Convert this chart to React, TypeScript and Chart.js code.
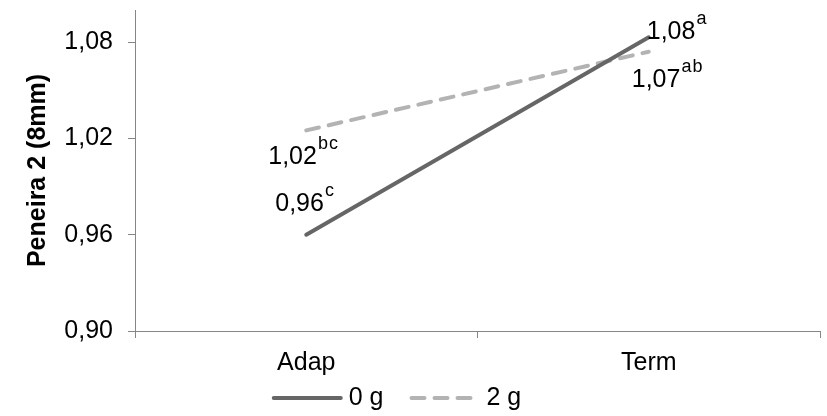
import React, { useEffect, useRef } from "react";
import { Chart, registerables } from "chart.js";

Chart.register(...registerables);

// ---- data ----
const categories = ["Adap", "Term"];
const seriesNames = ["0 g", "2 g"];
const values0g = [0.96, 1.083];
const values2g = [1.025, 1.074];
const valueLabels0g = ["0,96", "1,08"];
const letters0g = ["c", "a"];
const valueLabels2g = ["1,02", "1,07"];
const letters2g = ["bc", "ab"];
const yTickValues = [0.9, 0.96, 1.02, 1.08];
const yMin = 0.9;
const yMax = 1.1;
const yTitle = "Peneira 2 (8mm)";

// ---- style ----
const FONT = "'Liberation Sans', Arial, sans-serif";
const AXIS_COLOR = "#868686";
const COLOR_0G = "#666666";
const COLOR_2G = "#b3b3b3";
const MAIN_SIZE = 25;
const SUP_SIZE = 18;

const labelPlacements = [
  [
    { dx: -31, dy: -24 },
    { dx: -2, dy: 2 },
  ],
  [
    { dx: -38, dy: 34 },
    { dx: -17, dy: 35 },
  ],
];

const pointTexts = [valueLabels0g, valueLabels2g];
const pointLetters = [letters0g, letters2g];

const labelPlugin = {
  id: "pointLabels",
  afterDatasetsDraw(chart: any) {
    const ctx = chart.ctx;
    ctx.save();
    ctx.fillStyle = "#000";
    ctx.textBaseline = "alphabetic";
    ctx.textAlign = "left";
    chart.data.datasets.forEach((_ds: any, i: number) => {
      const meta = chart.getDatasetMeta(i);
      meta.data.forEach((pt: any, j: number) => {
        const main = pointTexts[i][j];
        const sup = pointLetters[i][j];
        const pl = labelPlacements[i][j];
        const sx = pt.x + pl.dx;
        const by = pt.y + pl.dy;
        ctx.font = `${MAIN_SIZE}px ${FONT}`;
        (ctx as any).letterSpacing = "0px";
        const wm = ctx.measureText(main).width;
        ctx.fillText(main, sx, by);
        ctx.font = `${SUP_SIZE}px ${FONT}`;
        (ctx as any).letterSpacing = "1px";
        ctx.fillText(sup, sx + wm + 1, by - 15);
        (ctx as any).letterSpacing = "0px";
      });
    });
    ctx.restore();
  },
};

const legendPlugin = {
  id: "lineLegend",
  afterDraw(chart: any) {
    const ctx = chart.ctx;
    const SAMPLE = 67;
    const GAP = 8;
    const ITEM_GAP = 28;
    ctx.save();
    ctx.font = `${MAIN_SIZE}px ${FONT}`;
    const items = chart.data.datasets.map((ds: any) => ({
      ds,
      w: ctx.measureText(ds.label).width,
    }));
    const total =
      items.reduce((a: number, it: any) => a + SAMPLE + GAP + it.w, 0) +
      ITEM_GAP * (items.length - 1);
    let x = chart.width / 2 - 16 - total / 2;
    const y = chart.chartArea.bottom + 67;
    items.forEach((it: any) => {
      const ds = it.ds;
      ctx.beginPath();
      ctx.strokeStyle = ds.borderColor;
      ctx.lineWidth = ds.borderWidth;
      ctx.lineCap = "round";
      ctx.setLineDash(ds.borderDash || []);
      ctx.moveTo(x, y);
      ctx.lineTo(x + SAMPLE, y);
      ctx.stroke();
      ctx.setLineDash([]);
      ctx.fillStyle = "#000";
      ctx.textBaseline = "middle";
      ctx.textAlign = "left";
      ctx.fillText(ds.label, x + SAMPLE + GAP, y);
      x += SAMPLE + GAP + it.w + ITEM_GAP;
    });
    ctx.restore();
  },
};

const fmt = (v: number) => v.toFixed(2).replace(".", ",");

export default function App() {
  const ref = useRef<HTMLCanvasElement | null>(null);
  useEffect(() => {
    if (!ref.current) return;
    const chart = new Chart(ref.current, {
      type: "line",
      data: {
        labels: categories,
        datasets: [
          {
            label: seriesNames[0],
            data: values0g,
            borderColor: COLOR_0G,
            backgroundColor: COLOR_0G,
            borderWidth: 4,
            borderCapStyle: "round",
            pointRadius: 0,
            tension: 0,
            fill: false,
          } as any,
          {
            label: seriesNames[1],
            data: values2g,
            borderColor: COLOR_2G,
            backgroundColor: COLOR_2G,
            borderWidth: 4,
            borderDash: [13, 10],
            borderCapStyle: "round",
            pointRadius: 0,
            tension: 0,
            fill: false,
          } as any,
        ],
      },
      options: {
        responsive: false,
        animation: false,
        events: [],
        layout: { padding: { top: 10, right: 7, left: 0, bottom: 0 } },
        plugins: {
          legend: { display: false },
          tooltip: { enabled: false },
        },
        scales: {
          x: {
            type: "category",
            offset: true,
            grid: {
              display: true,
              offset: true,
              drawOnChartArea: false,
              drawTicks: true,
              tickLength: 7,
              color: AXIS_COLOR,
              lineWidth: 1,
            },
            border: { display: true, color: AXIS_COLOR, width: 1 },
            ticks: {
              color: "#000",
              font: { family: FONT, size: MAIN_SIZE },
              padding: 10,
              maxRotation: 0,
              autoSkip: false,
            },
            afterFit: (s: any) => {
              s.height = 85;
              s.paddingLeft = 0;
              s.paddingRight = 0;
            },
          },
          y: {
            type: "linear",
            min: yMin,
            max: yMax,
            afterBuildTicks: (s: any) => {
              s.ticks = yTickValues.map((v) => ({ value: v }));
            },
            grid: {
              display: true,
              drawOnChartArea: false,
              drawTicks: true,
              tickLength: 7,
              color: AXIS_COLOR,
              lineWidth: 1,
            },
            border: { display: true, color: AXIS_COLOR, width: 1 },
            ticks: {
              color: "#000",
              font: { family: FONT, size: MAIN_SIZE },
              padding: 15,
              callback: (v: any) => fmt(Number(v)),
            },
            title: {
              display: true,
              text: yTitle,
              color: "#000",
              font: { family: FONT, size: MAIN_SIZE, weight: "bold", lineHeight: 1 },
              padding: { top: 26, bottom: 0 },
            },
            afterFit: (s: any) => {
              s.width = 135;
              s.paddingTop = 0;
              s.paddingBottom = 0;
            },
          },
        },
      } as any,
      plugins: [labelPlugin, legendPlugin],
    });
    return () => chart.destroy();
  }, []);
  return (
    <div style={{ position: "fixed", left: 0, top: 0, width: 827, height: 416, background: "#fff" }}>
      <canvas ref={ref} width={827} height={416} style={{ display: "block" }} />
    </div>
  );
}
